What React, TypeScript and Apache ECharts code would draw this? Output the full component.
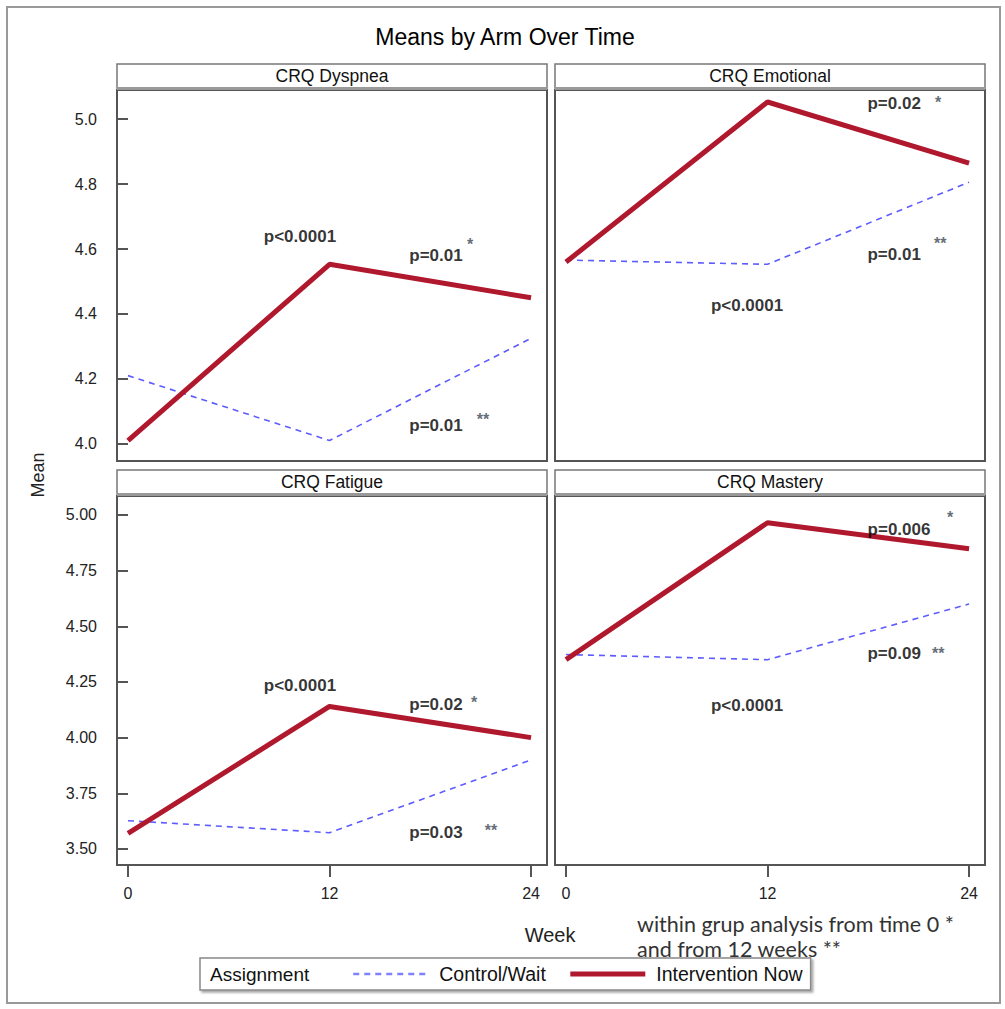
import React, { useEffect, useRef } from "react";
import * as echarts from "echarts";

// ---- data ----
const weeks = [0, 12, 24];
const seriesNames = ["Control/Wait", "Intervention Now"];
const panelTitles = ["CRQ Dyspnea", "CRQ Emotional", "CRQ Fatigue", "CRQ Mastery"];

const controlDyspnea = [4.21, 4.01, 4.325];
const interventionDyspnea = [4.01, 4.553, 4.45];
const controlEmotional = [4.566, 4.553, 4.806];
const interventionEmotional = [4.56, 5.053, 4.865];
const controlFatigue = [3.627, 3.573, 3.9];
const interventionFatigue = [3.57, 4.14, 4.0];
const controlMastery = [4.373, 4.35, 4.6];
const interventionMastery = [4.35, 4.965, 4.848];

const topRowTicks = [4.0, 4.2, 4.4, 4.6, 4.8, 5.0];
const bottomRowTicks = [3.5, 3.75, 4.0, 4.25, 4.5, 4.75, 5.0];
const weekTicks = [0, 12, 24];

// annotations: [week, mean, text]
const notesDyspnea = [[10.24, 4.64, "p<0.0001"], [18.34, 4.581, "p=0.01"], [18.34, 4.057, "p=0.01"]];
const starsDyspnea = [[20.37, 4.615, "*"], [21.14, 4.075, "**"]];
const notesEmotional = [[19.54, 5.047, "p=0.02"], [19.54, 4.584, "p=0.01"], [10.78, 4.427, "p<0.0001"]];
const starsEmotional = [[22.16, 5.05, "*"], [22.28, 4.618, "**"]];
const notesFatigue = [[10.24, 4.233, "p<0.0001"], [18.34, 4.148, "p=0.02"], [18.34, 3.573, "p=0.03"]];
const starsFatigue = [[20.61, 4.157, "*"], [21.62, 3.582, "**"]];
const notesMastery = [[19.83, 4.935, "p=0.006"], [19.54, 4.377, "p=0.09"], [10.78, 4.143, "p<0.0001"]];
const starsMastery = [[22.87, 4.989, "*"], [22.16, 4.377, "**"]];

const footnoteLines = ["within grup analysis from time 0 *", "and from 12 weeks **"];

// ---- layout / style ----
const FONT = "'Liberation Sans', Arial, sans-serif";
const GRIDS = [
  { left: 117, top: 90, width: 430, height: 371 },
  { left: 555, top: 90, width: 430, height: 371 },
  { left: 117, top: 496, width: 430, height: 369 },
  { left: 555, top: 496, width: 430, height: 369 },
];
const HEADERS = [
  { x: 117, y: 64 },
  { x: 555, y: 64 },
  { x: 117, y: 470 },
  { x: 555, y: 470 },
];
const RED = "#b0182e";
const BLUE = "#5c5cff";

const panels = [
  { control: controlDyspnea, intervention: interventionDyspnea, notes: notesDyspnea, stars: starsDyspnea },
  { control: controlEmotional, intervention: interventionEmotional, notes: notesEmotional, stars: starsEmotional },
  { control: controlFatigue, intervention: interventionFatigue, notes: notesFatigue, stars: starsFatigue },
  { control: controlMastery, intervention: interventionMastery, notes: notesMastery, stars: starsMastery },
];

function buildOption() {
  const grid = GRIDS.map((g) => ({
    ...g,
    show: true,
    borderColor: "#555",
    borderWidth: 2,
    backgroundColor: "#fff",
  }));

  const xAxis = GRIDS.map((_, i) => {
    const bottom = i >= 2;
    return {
      type: "value",
      gridIndex: i,
      min: -0.655,
      max: 24.95,
      splitLine: { show: false },
      axisLine: { show: false },
      axisTick: {
        show: bottom,
        length: 12,
        customValues: weekTicks,
        lineStyle: { color: "#555", width: 2 },
      },
      axisLabel: {
        show: bottom,
        customValues: weekTicks,
        margin: 20,
        fontFamily: FONT,
        fontSize: 16,
        color: "#222",
      },
    };
  });

  const yAxis = GRIDS.map((_, i) => {
    const left = i % 2 === 0;
    const top = i < 2;
    const ticks = top ? topRowTicks : bottomRowTicks;
    return {
      type: "value",
      gridIndex: i,
      min: top ? 3.947 : 3.428,
      max: top ? 5.09 : 5.085,
      splitLine: { show: false },
      axisLine: { show: false },
      axisTick: {
        show: left,
        length: 10,
        customValues: ticks,
        lineStyle: { color: "#555", width: 2 },
      },
      axisLabel: {
        show: left,
        customValues: ticks,
        margin: 20,
        fontFamily: FONT,
        fontSize: 16,
        color: "#222",
        formatter: (v: number) => (top ? v.toFixed(1) : v.toFixed(2)),
      },
    };
  });

  const series: any[] = [];
  panels.forEach((p, i) => {
    series.push({
      name: seriesNames[0],
      type: "line",
      xAxisIndex: i,
      yAxisIndex: i,
      data: weeks.map((w, k) => [w, p.control[k]]),
      symbol: "none",
      lineStyle: { color: BLUE, width: 1.6, type: [6, 5] },
      itemStyle: { color: BLUE },
      z: 3,
    });
    series.push({
      name: seriesNames[1],
      type: "line",
      xAxisIndex: i,
      yAxisIndex: i,
      data: weeks.map((w, k) => [w, p.intervention[k]]),
      symbol: "none",
      lineStyle: { color: RED, width: 5 },
      itemStyle: { color: RED },
      z: 4,
    });
    series.push({
      name: "notes" + i,
      type: "scatter",
      xAxisIndex: i,
      yAxisIndex: i,
      silent: true,
      symbolSize: 1,
      itemStyle: { color: "rgba(0,0,0,0)" },
      data: p.notes,
      label: {
        show: true,
        position: "inside",
        formatter: (d: any) => d.value[2],
        fontFamily: FONT,
        fontSize: 17,
        fontWeight: "bold",
        color: "#000",
      },
      z: 5,
    });
    series.push({
      name: "stars" + i,
      type: "scatter",
      xAxisIndex: i,
      yAxisIndex: i,
      silent: true,
      symbolSize: 1,
      itemStyle: { color: "rgba(0,0,0,0)" },
      data: p.stars,
      label: {
        show: true,
        position: "inside",
        formatter: (d: any) => d.value[2],
        fontFamily: FONT,
        fontSize: 16,
        fontWeight: "bold",
        color: "#3c4656",
      },
      z: 5,
    });
  });

  const graphic: any[] = [
    {
      type: "rect",
      shape: { x: 7, y: 7, width: 993, height: 996 },
      style: { fill: "none", stroke: "#999", lineWidth: 2 },
      z: 0,
      silent: true,
    },
    {
      type: "text",
      x: 505,
      y: 37,
      style: {
        text: "Means by Arm Over Time",
        font: `23px ${FONT}`,
        fill: "#000",
        textAlign: "center",
        textVerticalAlign: "middle",
      },
    },
    {
      type: "text",
      x: 38,
      y: 475,
      rotation: Math.PI / 2,
      style: {
        text: "Mean",
        font: `18px ${FONT}`,
        fill: "#222",
        textAlign: "center",
        textVerticalAlign: "middle",
      },
    },
    {
      type: "text",
      x: 550,
      y: 935,
      style: {
        text: "Week",
        font: `20px ${FONT}`,
        fill: "#222",
        textAlign: "center",
        textVerticalAlign: "middle",
      },
    },
    {
      type: "text",
      x: 210,
      y: 974,
      z: 20,
      style: {
        text: "Assignment",
        font: `19px ${FONT}`,
        fill: "#111",
        textAlign: "left",
        textVerticalAlign: "middle",
      },
    },
  ];

  HEADERS.forEach((h, i) => {
    graphic.push({
      type: "rect",
      shape: { x: h.x, y: h.y, width: 430, height: 24 },
      style: { fill: "#fff", stroke: "#777", lineWidth: 1.5 },
      silent: true,
    });
    graphic.push({
      type: "rect",
      shape: { x: h.x, y: h.y + 23, width: 430, height: 3 },
      style: { fill: "#999" },
      silent: true,
    });
    graphic.push({
      type: "text",
      x: h.x + 215,
      y: h.y + 12,
      style: {
        text: panelTitles[i],
        font: `17.5px ${FONT}`,
        fill: "#111",
        textAlign: "center",
        textVerticalAlign: "middle",
      },
    });
  });

  footnoteLines.forEach((t, k) => {
    graphic.push({
      type: "text",
      x: 637,
      y: 924 + k * 25,
      z: 30,
      style: {
        text: t,
        font: `21.5px Lato, 'Open Sans', sans-serif`,
        fill: "#333",
        textAlign: "left",
        textVerticalAlign: "middle",
      },
    });
  });

  return {
    animation: false,
    backgroundColor: "#fff",
    grid,
    xAxis,
    yAxis,
    series,
    graphic,
    legend: {
      data: [
        { name: seriesNames[0], lineStyle: { color: "#8080ff", width: 2.5, type: [6, 5] } },
        { name: seriesNames[1], lineStyle: { color: RED, width: 5 } },
      ],
      left: 200,
      top: 958,
      orient: "horizontal",
      padding: [6, 8, 6, 152],
      itemWidth: 75,
      itemHeight: 14,
      itemGap: 22,
      itemStyle: { opacity: 0 },
      borderColor: "#888",
      borderWidth: 1.5,
      backgroundColor: "#fff",
      shadowColor: "rgba(0,0,0,0.35)",
      shadowBlur: 2,
      shadowOffsetX: 2,
      shadowOffsetY: 2,
      textStyle: {
        fontFamily: FONT,
        fontSize: 19.5,
        color: "#111",
        padding: [0, 0, 0, 6],
      },
      selectedMode: false,
    },
  };
}

export default function App() {
  const ref = useRef<HTMLDivElement>(null);
  useEffect(() => {
    document.body.style.margin = "0";
    if (!ref.current) return;
    const chart = echarts.init(ref.current, undefined, { renderer: "svg" });
    chart.setOption(buildOption() as any);
    return () => {
      chart.dispose();
    };
  }, []);
  return <div ref={ref} style={{ width: 1005, height: 1009 }} />;
}
